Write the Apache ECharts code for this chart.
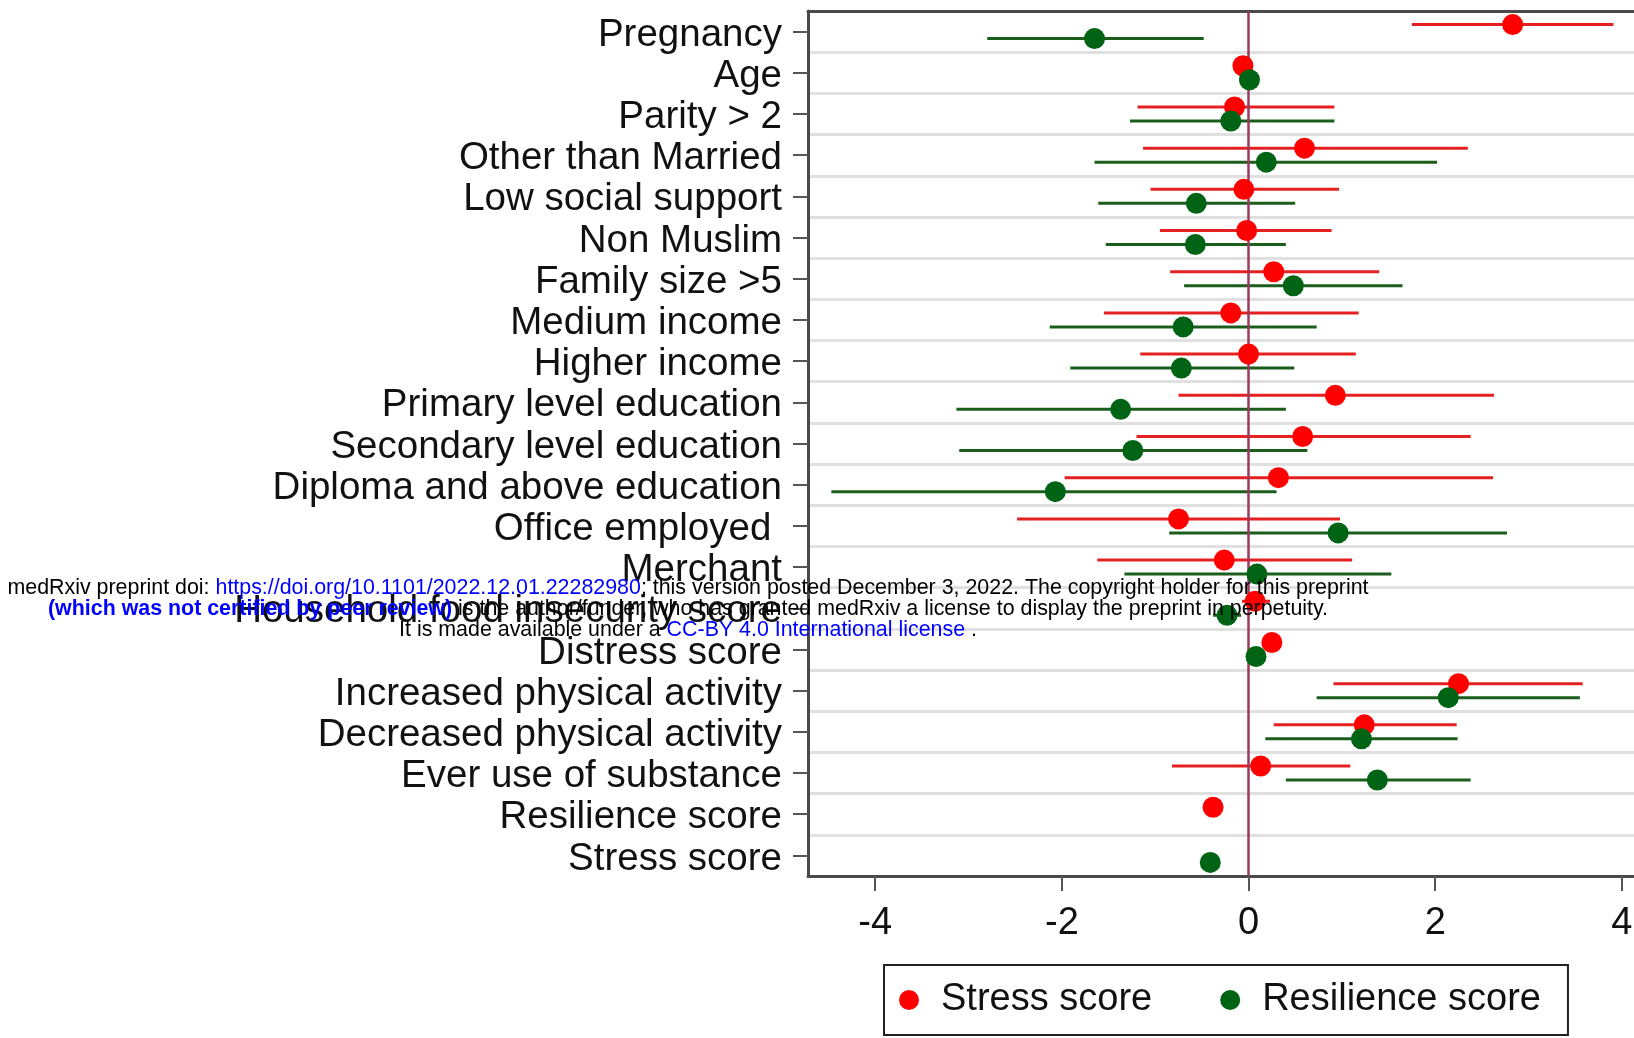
<!DOCTYPE html>
<html>
<head>
<meta charset="utf-8">
<script src="https://cdn.jsdelivr.net/npm/echarts@6/dist/echarts.min.js"></script>
<style>
  html, body { margin: 0; padding: 0; background: #ffffff; }
  #chart { width: 1634px; height: 1038px; }
</style>
</head>
<body>
<div id="chart"></div>
<script>
// ---------- data ----------
const categories = [
  'Pregnancy', 'Age', 'Parity > 2', 'Other than Married', 'Low social support',
  'Non Muslim', 'Family size >5', 'Medium income', 'Higher income',
  'Primary level education', 'Secondary level education', 'Diploma and above education',
  'Office employed ', 'Merchant', 'Household food insecurity score', 'Distress score',
  'Increased physical activity', 'Decreased physical activity', 'Ever use of substance',
  'Resilience score', 'Stress score'
];

const stressEst = [2.83, -0.06, -0.15, 0.60, -0.05, -0.02, 0.27, -0.19, 0.00, 0.93, 0.58, 0.32, -0.75, -0.26, 0.07, 0.25, 2.25, 1.24, 0.13, -0.38, null];
const stressLo  = [1.75, null, -1.19, -1.13, -1.05, -0.95, -0.84, -1.55, -1.16, -0.75, -1.20, -1.97, -2.48, -1.62, -0.07, null, 0.91, 0.27, -0.82, null, null];
const stressHi  = [3.91, null, 0.92, 2.35, 0.97, 0.89, 1.40, 1.18, 1.15, 2.63, 2.38, 2.62, 0.98, 1.11, 0.23, null, 3.58, 2.23, 1.09, null, null];

const resilEst = [-1.65, 0.01, -0.19, 0.19, -0.56, -0.57, 0.48, -0.70, -0.72, -1.37, -1.24, -2.07, 0.96, 0.09, -0.23, 0.08, 2.14, 1.21, 1.38, null, -0.41];
const resilLo  = [-2.80, null, -1.27, -1.65, -1.61, -1.53, -0.69, -2.13, -1.91, -3.13, -3.10, -4.47, -0.85, -1.33, -0.38, null, 0.73, 0.18, 0.40, null, null];
const resilHi  = [-0.48, null, 0.92, 2.02, 0.50, 0.40, 1.65, 0.73, 0.49, 0.40, 0.63, 0.30, 2.77, 1.53, -0.08, null, 3.55, 2.24, 2.38, null, null];

const xTicks = [-4, -2, 0, 2, 4];
const seriesNames = ['Stress score', 'Resilience score'];

// ---------- styling ----------
const FONT = '"Liberation Sans", Arial, Helvetica, sans-serif';
const RED = '#ff0000', RED_LINE = '#e62020';
const GREEN = '#006414', GREEN_LINE = '#1b5e1b';
const OFF = 7;

function pointData(est) {
  const out = [];
  est.forEach((v, i) => { if (v !== null) out.push([v, i]); });
  return out;
}
function ciData(lo, hi) {
  const out = [];
  lo.forEach((v, i) => { if (v !== null && hi[i] !== null) out.push([i, v, hi[i]]); });
  return out;
}
function ciRenderer(offset, color) {
  return function (params, api) {
    const idx = api.value(0);
    const a = api.coord([api.value(1), idx]);
    const b = api.coord([api.value(2), idx]);
    return {
      type: 'line',
      shape: { x1: a[0], y1: a[1] + offset, x2: b[0], y2: b[1] + offset },
      style: { stroke: color, lineWidth: 3 }
    };
  };
}

const chart = echarts.init(document.getElementById('chart'), null, { renderer: 'canvas' });

const option = {
  animation: false,
  backgroundColor: '#ffffff',
  textStyle: { fontFamily: FONT },
  grid: { left: 808, right: 0, top: 11, bottom: 162, outerBoundsMode: 'none', containLabel: false },
  xAxis: [
    {
      type: 'value', position: 'bottom', min: -4.72, max: 4.13,
      axisLine: { show: true, onZero: false, lineStyle: { color: '#4a4a4a', width: 3 } },
      axisTick: { show: true, length: 15, customValues: xTicks, lineStyle: { color: '#555', width: 2 } },
      axisLabel: { customValues: xTicks, fontSize: 38, margin: 29, color: '#111', fontFamily: FONT },
      splitLine: { show: false }
    },
    {
      type: 'value', position: 'top', min: -4.72, max: 4.13,
      axisLine: { show: true, onZero: false, lineStyle: { color: '#4a4a4a', width: 3 } },
      axisTick: { show: false }, axisLabel: { show: false }, splitLine: { show: false }
    }
  ],
  yAxis: {
    type: 'category', data: categories, inverse: true, boundaryGap: true, position: 'left',
    axisLine: { show: true, onZero: false, lineStyle: { color: '#4a4a4a', width: 3 } },
    axisTick: { show: true, alignWithLabel: true, length: 15, lineStyle: { color: '#555', width: 2 } },
    axisLabel: {
      margin: 26, interval: 0,
      formatter: v => '{l|' + v + '}',
      rich: { l: { fontSize: 38.5, color: '#111', fontFamily: FONT, padding: [7, 0, 0, 0] } }
    },
    splitLine: { show: true, lineStyle: { color: '#e0e0e0', width: 3 } }
  },
  legend: {
    data: seriesNames.map(n => ({ name: n, icon: 'circle' })),
    left: 884, top: 965,
    orient: 'horizontal',
    itemWidth: 20, itemHeight: 20, itemGap: 68,
    padding: [13, 27, 13, 15],
    borderColor: '#222', borderWidth: 2,
    textStyle: { fontSize: 38, color: '#111', fontFamily: FONT, lineHeight: 44, padding: [0, 0, 0, 17] }
  },
  series: [
    {
      name: 'zero line', type: 'custom', z: 1, silent: true,
      data: [], renderItem: () => null,
      markLine: {
        silent: true, symbol: 'none', animation: false,
        label: { show: false },
        lineStyle: { color: '#9a3a60', width: 2.5, type: 'solid' },
        data: [{ xAxis: 0 }]
      }
    },
    {
      name: 'Stress score CI', type: 'custom', z: 3, silent: true,
      encode: { x: [1, 2], y: 0 },
      renderItem: ciRenderer(-OFF, RED_LINE),
      data: ciData(stressLo, stressHi)
    },
    {
      name: 'Resilience score CI', type: 'custom', z: 3, silent: true,
      encode: { x: [1, 2], y: 0 },
      renderItem: ciRenderer(OFF, GREEN_LINE),
      data: ciData(resilLo, resilHi)
    },
    {
      name: seriesNames[0], type: 'scatter', z: 5,
      symbol: 'circle', symbolSize: 21, symbolOffset: [0, -OFF],
      itemStyle: { color: RED, opacity: 1 },
      data: pointData(stressEst)
    },
    {
      name: seriesNames[1], type: 'scatter', z: 5,
      symbol: 'circle', symbolSize: 21, symbolOffset: [0, OFF],
      itemStyle: { color: GREEN, opacity: 1 },
      data: pointData(resilEst)
    }
  ],
  graphic: [
    {
      type: 'text', x: 688, y: 588, z: 100, silent: true,
      style: {
        text: '{k|medRxiv preprint doi: }{u|https://doi.org/10.1101/2022.12.01.22282980}{k|; this version posted December 3, 2022. The copyright holder for this preprint}',
        align: 'center', verticalAlign: 'middle',
        font: '21.4px ' + FONT,
        rich: {
          k: { fill: '#000', fontSize: 21.4, fontFamily: FONT },
          u: { fill: '#0000ff', fontSize: 21.4, fontFamily: FONT }
        }
      }
    },
    {
      type: 'text', x: 688, y: 609, z: 100, silent: true,
      style: {
        text: '{b|(which was not certified by peer review)}{k| is the author/funder, who has granted medRxiv a license to display the preprint in perpetuity.}',
        align: 'center', verticalAlign: 'middle',
        font: '21.4px ' + FONT,
        rich: {
          k: { fill: '#000', fontSize: 21.4, fontFamily: FONT },
          b: { fill: '#0000ff', fontSize: 21.4, fontWeight: 'bold', fontFamily: FONT }
        }
      }
    },
    {
      type: 'text', x: 688, y: 630, z: 100, silent: true,
      style: {
        text: '{k|It is made available under a }{u|CC-BY 4.0 International license}{k| .}',
        align: 'center', verticalAlign: 'middle',
        font: '21.4px ' + FONT,
        rich: {
          k: { fill: '#000', fontSize: 21.4, fontFamily: FONT },
          u: { fill: '#0000ff', fontSize: 21.4, fontFamily: FONT }
        }
      }
    }
  ]
};

chart.setOption(option);
</script>
</body>
</html>
